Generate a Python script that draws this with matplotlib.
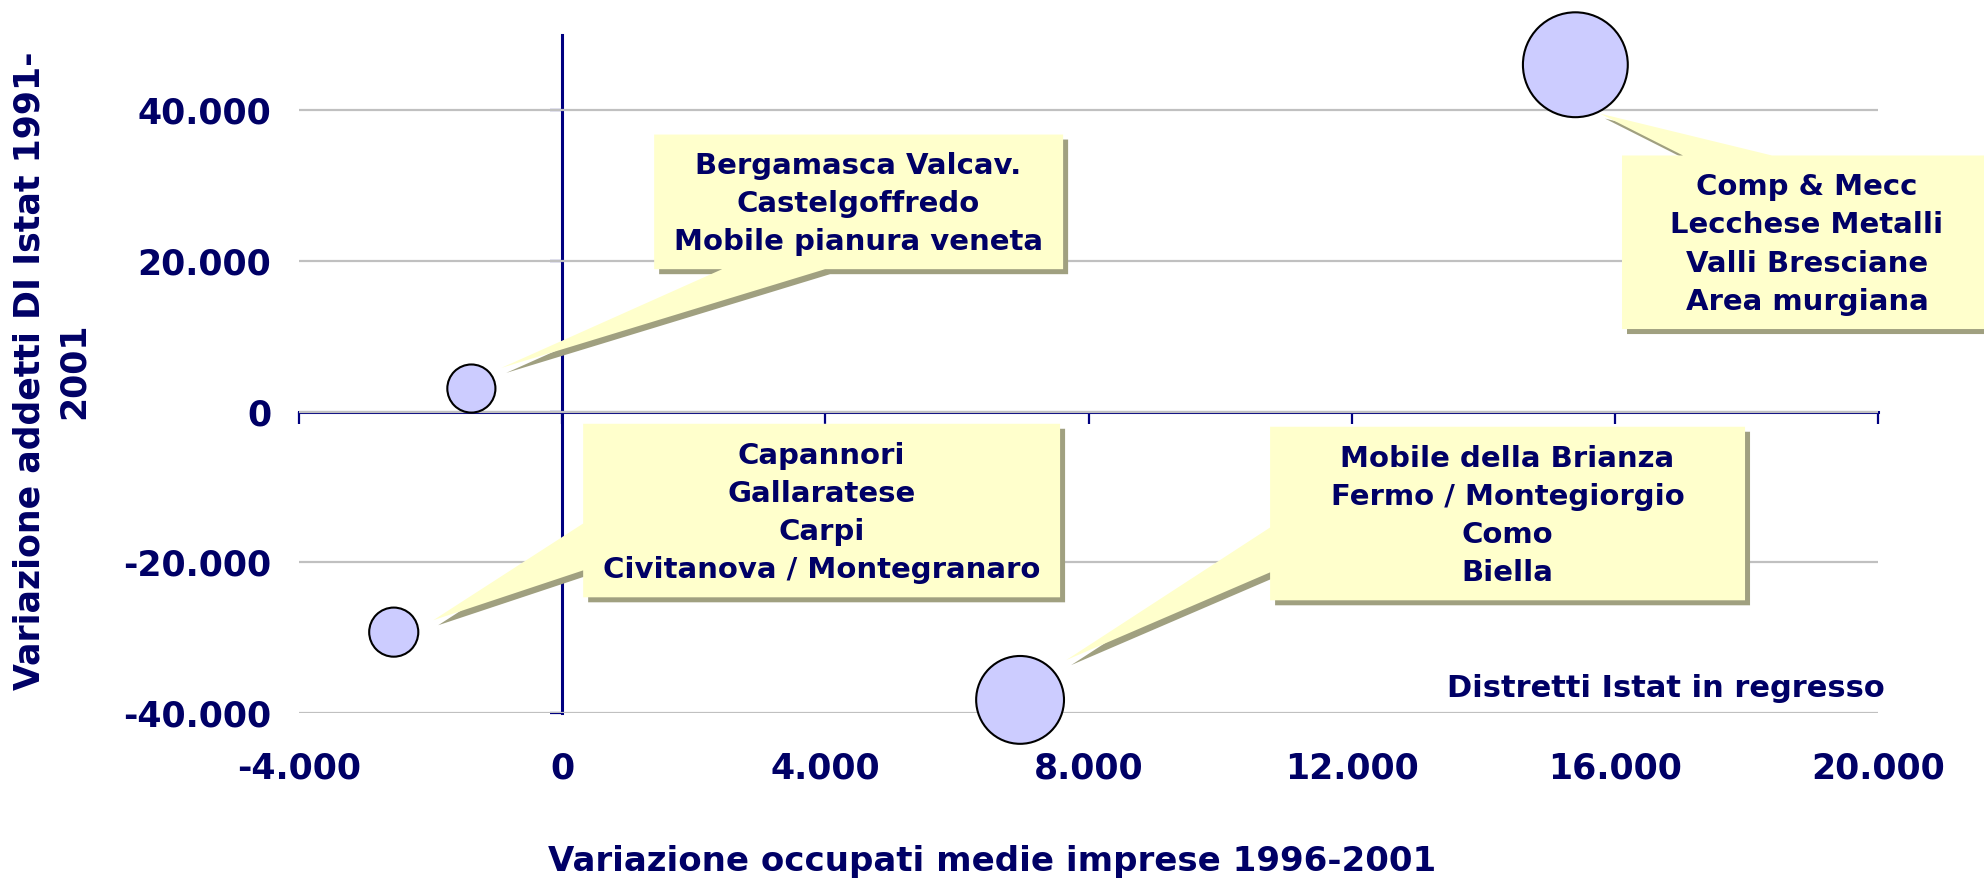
import matplotlib
matplotlib.use('Agg')
import matplotlib.pyplot as plt
from matplotlib.patches import Polygon
from matplotlib.transforms import offset_copy

plt.rcParams['font.family'] = ['DejaVu Sans']
plt.rcParams['font.weight'] = 'bold'

# ---------------- data ----------------
group_labels = [
    "Bergamasca Valcav.\nCastelgoffredo\nMobile pianura veneta",
    "Comp & Mecc\nLecchese Metalli\nValli Bresciane\nArea murgiana",
    "Capannori\nGallaratese\nCarpi\nCivitanova / Montegranaro",
    "Mobile della Brianza\nFermo / Montegiorgio\nComo\nBiella",
]
var_occupati_medie = [-1380, 15400, -2560, 6960]      # x
var_addetti_di = [3050, 46050, -29300, -38300]        # y
bubble_sizes = [1200, 5700, 1250, 4000]

x_ticks = [-4000, 0, 4000, 8000, 12000, 16000, 20000]
x_ticklabels = ['-4.000', '0', '4.000', '8.000', '12.000', '16.000', '20.000']
y_ticks = [-40000, -20000, 0, 20000, 40000]
y_ticklabels = ['-40.000', '-20.000', '0', '20.000', '40.000']

x_title = "Variazione occupati medie imprese 1996-2001"
y_title = "Variazione addetti DI Istat 1991-\n2001"
note_text = "Distretti Istat in regresso"

# callout layout: box (x0, x1, y0, y1), side of tail, tail base, tail tip
callouts = [
    dict(box=(1398, 7614, 18901, 36781), side='bottom', base=(2432, 3997), tip=(-927, 5788)),
    dict(box=(16109, 21730, 10950, 34000), side='top', base=(17036, 18389), tip=(15775, 39563)),
    dict(box=(319, 7568, -24675, -1629), side='left', base=(-21099, -14874), tip=(-1960, -27722)),
    dict(box=(10760, 17979, -25073, -2026), side='left', base=(-21364, -15404), tip=(7660, -33020)),
]

NAVY_TXT = '#000066'
NAVY = '#000080'

fig = plt.figure(figsize=(19.84, 8.82), dpi=100)
ax = fig.add_axes([299 / 1984, 1 - 712.7 / 882, (1878 - 299) / 1984, (712.7 - 35) / 882])
ax.set_xlim(-4000, 20000)
ax.set_ylim(-40000, 50000)

for s in ax.spines.values():
    s.set_visible(False)

ax.set_xticks(x_ticks)
ax.set_xticklabels(x_ticklabels)
ax.set_yticks(y_ticks)
ax.set_yticklabels(y_ticklabels)
ax.tick_params(axis='both', length=0, labelsize=25, labelcolor=NAVY_TXT)
ax.tick_params(axis='x', pad=28)
ax.tick_params(axis='y', pad=20)
ax.yaxis.grid(True, color='#C0C0C0', linewidth=1.6, zorder=0)
ax.set_axisbelow(True)

# axis lines crossing at zero (secondary axes for line + ticks only)
yfrac = (0 - (-40000)) / 90000
xfrac = (0 - (-4000)) / 24000
sx = ax.secondary_xaxis(yfrac)
sx.set_xticks(x_ticks)
sx.tick_params(axis='x', direction='out', length=8.5, width=1.6, color=NAVY, labelbottom=False, labeltop=False)
sx.spines['bottom'].set_color(NAVY)
sx.spines['bottom'].set_linewidth(2.2)
sx.spines['top'].set_visible(False)
sy = ax.secondary_yaxis(xfrac)
sy.set_yticks(y_ticks)
sy.tick_params(axis='y', direction='out', length=8.5, width=1.6, color=NAVY, labelleft=False, labelright=False)
sy.spines['left'].set_color(NAVY)
sy.spines['left'].set_linewidth(2.2)
sy.spines['right'].set_visible(False)

# bubbles
ax.scatter(var_occupati_medie, var_addetti_di, s=bubble_sizes, facecolor='#CCCCFF',
           edgecolor='black', linewidth=1.5, zorder=5, clip_on=False)


def callout_poly(box, side, base, tip):
    x0, x1, y0, y1 = box
    if side == 'bottom':
        return [(x0, y1), (x1, y1), (x1, y0), (max(base), y0), tip, (min(base), y0), (x0, y0)]
    if side == 'top':
        return [(x0, y1), (min(base), y1), tip, (max(base), y1), (x1, y1), (x1, y0), (x0, y0)]
    # left
    return [(x0, y1), (x1, y1), (x1, y0), (x0, y0), (x0, min(base)), tip, (x0, max(base))]


shadow_tr = offset_copy(ax.transData, fig=fig, x=5, y=-5, units='dots')
for c, lab in zip(callouts, group_labels):
    verts = callout_poly(c['box'], c['side'], c['base'], c['tip'])
    ax.add_patch(Polygon(verts, closed=True, facecolor='#A0A080', edgecolor='none',
                         transform=shadow_tr, zorder=6, clip_on=False))
    ax.add_patch(Polygon(verts, closed=True, facecolor='#FFFFCC', edgecolor='none',
                         zorder=7, clip_on=False))
    x0, x1, y0, y1 = c['box']
    ax.text((x0 + x1) / 2, (y0 + y1) / 2 - 300, lab, ha='center', va='center', multialignment='center',
            fontsize=21, color=NAVY_TXT, linespacing=1.46, zorder=8, clip_on=False)

ax.text(20100, -37900, note_text, ha='right', va='baseline', fontsize=22, color=NAVY_TXT, zorder=8)

fig.text(0.5, 1 - 862 / 882, x_title, ha='center', va='center', fontsize=24.5, color=NAVY_TXT)
fig.text(52 / 1984, 1 - 371 / 882, y_title, ha='center', va='center', rotation=90,
         multialignment='center', fontsize=25, color=NAVY_TXT, linespacing=1.38)

fig.savefig('out.png', dpi=100)
